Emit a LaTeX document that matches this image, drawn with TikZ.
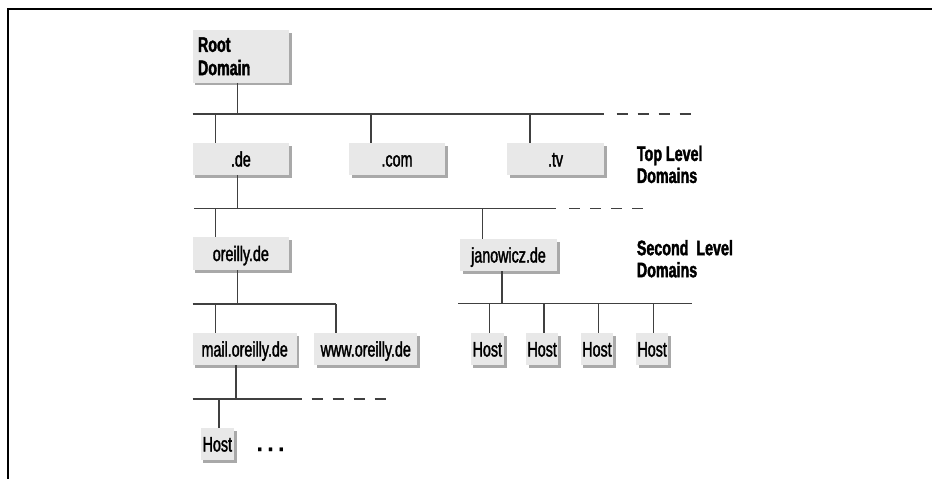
\documentclass[tikz,border=0pt]{standalone}
\usepackage{fontspec}
\setmainfont{Liberation Sans}[FakeStretch=0.68, UprightFeatures={FakeBold=1.6}, BoldFeatures={FakeBold=1.8}]
\newfontfamily\dotfam{Liberation Sans}[FakeBold=0.5]
\usetikzlibrary{shadows}
\definecolor{boxgray}{HTML}{E8E8E8}
\definecolor{shadowgray}{HTML}{A9A9A9}
\definecolor{linegray}{HTML}{404040}
\newcommand\regfont{\fontsize{21}{23}\selectfont}
\newcommand\boldfont{\fontsize{21}{22}\selectfont\bfseries}
\tikzset{
  boxbase/.style={fill=boxgray, draw=none, inner sep=0pt,
    drop shadow={shadow xshift=2.5pt, shadow yshift=-2.5pt, fill=shadowgray, opacity=1}},
  dombox/.style={boxbase, text height=15pt, text depth=0pt, font=\regfont,
    minimum height=32pt},
  rootbox/.style={boxbase, font=\fontsize{21}{23.3}\selectfont\bfseries, align=left,
    inner xsep=5.3pt, inner ysep=0pt, text width=85.7pt, minimum height=52.7pt},
  conn/.style={draw=linegray, line width=1.4pt},
  dashconn/.style={conn, dash pattern=on 11pt off 10pt},
  lbl/.style={font=\boldfont, align=left, inner sep=0pt, anchor=north west},
}
\begin{document}
\begin{tikzpicture}[x=1pt, y=-1pt]
\useasboundingbox (0,0) rectangle (932,479);
% frame
\draw[line width=1.5pt, black] (8,479) -- (8,9) -- (932,9);

% boxes
\node[rootbox] (root) at (240.85,56.35) {Root\\Domain};
\node[dombox, minimum width=96.3pt] (de) at (240.85,159) {.de};
\node[dombox, minimum width=96pt] (com) at (397,159) {.com};
\node[dombox, minimum width=97pt] (tv) at (555.5,159) {.tv};
\node[dombox, minimum width=96.3pt, minimum height=33pt] (oreilly) at (240.85,253.5) {oreilly.de};
\node[dombox, minimum width=97pt] (jan) at (508.5,255) {janowicz.de};
\node[dombox, minimum width=104pt] (mail) at (244.7,349) {mail.oreilly.de};
\node[dombox, minimum width=103pt] (www) at (365.8,349) {www.oreilly.de};
\node[dombox, minimum width=33.3pt] (host0) at (217.35,444) {Host};
\node[dombox, minimum width=33.3pt] (hosta) at (487.35,349) {Host};
\node[dombox, minimum width=32.3pt] (hostb) at (542.15,349) {Host};
\node[dombox, minimum width=32.6pt] (hostc) at (597,349) {Host};
\node[dombox, minimum width=32.3pt] (hostd) at (652.15,349) {Host};
\node[font=\dotfam\fontsize{22}{22}\selectfont\bfseries, anchor=base, inner sep=0pt] (dots) at (270.5,451) {.\hspace{4.6pt}.\hspace{4.6pt}.};

% labels
\node[lbl] (tld) at (636.7,145.5) {Top Level\\Domains};
\node[lbl] (sld) at (636.7,239.8) {Second\ \ Level\\Domains};

% bus 1
\coordinate (b1w) at (192.7,114);
\coordinate (b1e) at (604,114);
\coordinate (b1d0) at (616.7,114);
\coordinate (b1d1) at (691.7,114);
\coordinate (t1r) at (237.3,114);
\coordinate (t1de) at (215.7,114);
\coordinate (t1com) at (371,114);
\coordinate (t1tv) at (530,114);
\draw[conn] (b1w) -- (b1e);
\draw[dashconn] (b1d0) -- (b1d1);
\draw[conn] (t1r |- root.south) -- (t1r);
\draw[conn] (t1de) -- (t1de |- de.north);
\draw[conn] (t1com) -- (t1com |- com.north);
\draw[conn] (t1tv) -- (t1tv |- tv.north);

% bus 2
\coordinate (b2w) at (194,208.3);
\coordinate (b2e) at (556,208.3);
\coordinate (b2d0) at (569,208.3);
\coordinate (b2d1) at (644,208.3);
\coordinate (t2de) at (237.3,208.3);
\coordinate (t2or) at (215.7,208.3);
\coordinate (t2jan) at (482.7,208.3);
\draw[conn] (b2w) -- (b2e);
\draw[dashconn] (b2d0) -- (b2d1);
\draw[conn] (t2de |- de.south) -- (t2de);
\draw[conn] (t2or) -- (t2or |- oreilly.north);
\draw[conn] (t2jan) -- (t2jan |- jan.north);

% bus 3
\coordinate (b3w) at (192.7,304);
\coordinate (b3e) at (336,304);
\coordinate (t3or) at (237.3,304);
\coordinate (t3mail) at (215.7,304);
\draw[conn] (b3w) -- (b3e);
\draw[conn] (t3or |- oreilly.south) -- (t3or);
\draw[conn] (t3mail) -- (t3mail |- mail.north);
\draw[conn] (b3e) -- (b3e |- www.north);

% bus 4
\coordinate (b4w) at (192.7,399);
\coordinate (b4e) at (302.3,399);
\coordinate (b4d0) at (311.7,399);
\coordinate (b4d1) at (386.7,399);
\coordinate (t4mail) at (236,399);
\coordinate (t4host) at (219,399);
\draw[conn] (b4w) -- (b4e);
\draw[dashconn] (b4d0) -- (b4d1);
\draw[conn] (t4mail |- mail.south) -- (t4mail);
\draw[conn] (t4host) -- (t4host |- host0.north);

% bus 5
\coordinate (b5w) at (458.3,303.3);
\coordinate (b5e) at (692.3,303.3);
\coordinate (t5jan) at (502,303.3);
\coordinate (t5a) at (489.3,303.3);
\coordinate (t5b) at (544,303.3);
\coordinate (t5c) at (598.3,303.3);
\coordinate (t5d) at (653.3,303.3);
\draw[conn] (b5w) -- (b5e);
\draw[conn] (t5jan |- jan.south) -- (t5jan);
\draw[conn] (t5a) -- (t5a |- hosta.north);
\draw[conn] (t5b) -- (t5b |- hostb.north);
\draw[conn] (t5c) -- (t5c |- hostc.north);
\draw[conn] (t5d) -- (t5d |- hostd.north);
\end{tikzpicture}
\end{document}
